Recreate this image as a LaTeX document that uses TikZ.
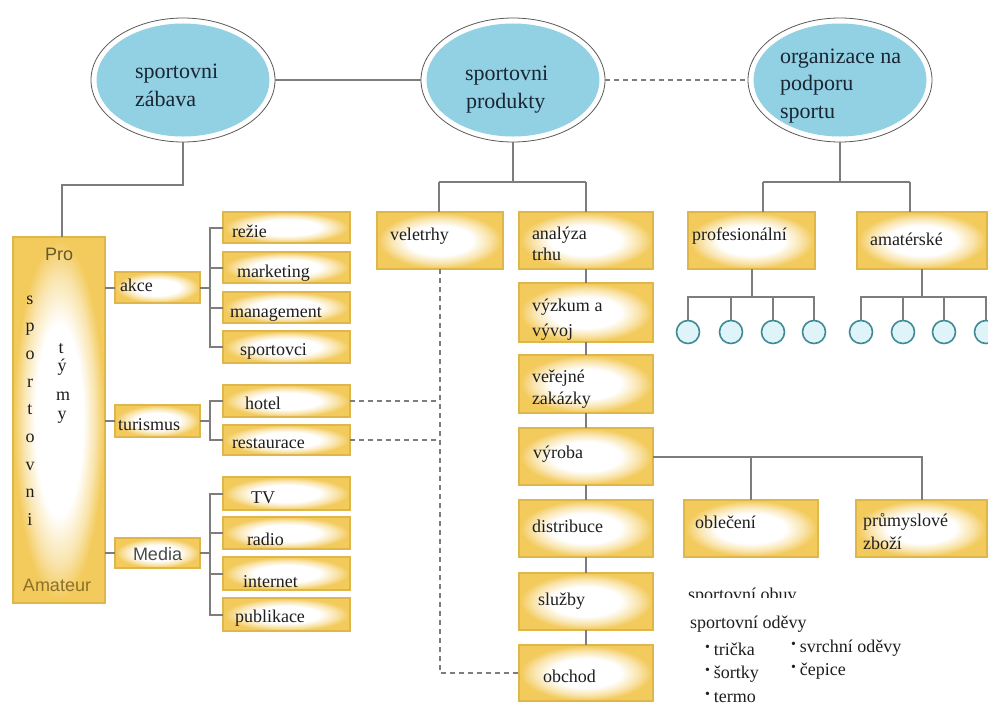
\documentclass[tikz,border=0pt]{standalone}
\usepackage{fontspec}
\setmainfont{Liberation Serif}
\newfontfamily\serff{Liberation Serif}
\newfontfamily\sansf{Liberation Sans}
\usetikzlibrary{shapes.geometric}
\definecolor{boxgold}{RGB}{243,202,92}
\definecolor{boxedge}{RGB}{222,182,74}
\definecolor{ellblue}{RGB}{146,208,228}
\definecolor{connc}{RGB}{125,125,125}
\definecolor{circfill}{RGB}{222,244,248}
\definecolor{circedge}{RGB}{62,138,150}
\definecolor{txt}{RGB}{30,30,30}
\definecolor{etxtc}{RGB}{25,38,50}
\definecolor{protxt}{RGB}{105,88,40}
\definecolor{amtxt}{RGB}{140,112,40}
\definecolor{medtxt}{RGB}{75,75,70}
\pgfdeclareradialshading{boxsh}{\pgfpoint{0bp}{0bp}}{color(0bp)=(white); color(13bp)=(white); color(19.5bp)=(boxgold!50!white); color(24.5bp)=(boxgold); color(50bp)=(boxgold)}
\newcommand\mybox[5]{%
  \pgfmathsetmacro\bxw{#4-#2}\pgfmathsetmacro\bxh{#5-#3}%
  \pgfmathsetmacro\bxcx{(#2+#4)/2}\pgfmathsetmacro\bxcy{(#3+#5)/2}%
  \node[box, minimum width=\bxw pt, minimum height=\bxh pt] (#1) at (\bxcx,\bxcy) {};}
\newcommand\mytx[4]{\node[lbl] (#1) at (#2,#3) {#4};}
\newcommand\bul{\raisebox{4pt}{\fontsize{14}{14}\selectfont•}\hspace{4pt}}
\tikzset{
  box/.style={rectangle, draw=boxedge, line width=1.4pt, shading=boxsh, inner sep=0pt, outer sep=0pt},
  conn/.style={draw=connc, line width=2pt},
  dsh/.style={draw=connc, line width=1.6pt, dash pattern=on 5pt off 4pt},
  lbl/.style={inner sep=0pt, outer sep=0pt, anchor=base west, text=txt, font=\serff\fontsize{18}{21}\selectfont},
  etx/.style={inner sep=0pt, outer sep=0pt, anchor=base west, text=etxtc, font=\serff\fontsize{22}{26}\selectfont},
  ltr/.style={inner sep=0pt, outer sep=0pt, anchor=base, text=txt, font=\serff\fontsize{18}{21}\selectfont},
  ell/.style={ellipse, draw=gray!70!black, line width=0.8pt, fill=white, minimum width=184pt, minimum height=124pt, inner sep=0pt},
  circ/.style={circle, draw=circedge, fill=circfill, line width=1.6pt, minimum size=23pt, inner sep=0pt}
}
\begin{document}
\begin{tikzpicture}[x=1pt,y=-1pt]
\useasboundingbox (0,0) rectangle (988,702);
\fill[white] (0,0) rectangle (988,702);

% ellipses
\node[ell] (e1) at (183,80) {};
\node[ell] (e2) at (513,80) {};
\node[ell] (e3) at (840,80) {};
\foreach \e in {e1,e2,e3}{\fill[ellblue] (\e.center) ellipse (86.5pt and 56.5pt);}
\node[etx] (t-e1a) at (135,78) {sportovni};
\node[etx] (t-e1b) at (135,106) {zábava};
\node[etx] (t-e2a) at (465,80) {sportovni};
\node[etx] (t-e2b) at (466,108) {produkty};
\node[etx] (t-e3a) at (780,63) {organizace na};
\node[etx] (t-e3b) at (780,90) {podporu};
\node[etx] (t-e3c) at (780,118) {sportu};

% boxes
\mybox{big}{13}{237}{105}{603}
\mybox{akce}{115}{272}{200}{303}
\mybox{tur}{115}{405}{200}{437}
\mybox{media}{115}{538}{200}{568}
\mybox{rezie}{223}{212}{350}{243}
\mybox{mark}{223}{252}{350}{283}
\mybox{mgmt}{223}{292}{350}{323}
\mybox{spv}{223}{331}{350}{363}
\mybox{hotel}{223}{385}{350}{417}
\mybox{rest}{223}{425}{350}{455}
\mybox{tv}{223}{477}{350}{510}
\mybox{radio}{223}{517}{350}{549}
\mybox{inet}{223}{557}{350}{590}
\mybox{publ}{223}{598}{350}{631}
\mybox{velet}{377}{212}{503}{269}
\mybox{anal}{519}{212}{653}{269}
\mybox{vyzk}{519}{283}{653}{342}
\mybox{verej}{519}{355}{653}{413}
\mybox{vyr}{519}{428}{653}{485}
\mybox{dist}{519}{500}{653}{557}
\mybox{sluz}{519}{573}{653}{630}
\mybox{obch}{519}{645}{653}{701}
\mybox{prof}{688}{212}{815}{269}
\mybox{amat}{857}{212}{987}{269}
\mybox{obl}{684}{500}{818}{557}
\mybox{prum}{856}{500}{987}{557}

% circles
\node[circ] (c1) at (688,332) {};
\node[circ] (c2) at (731,332) {};
\node[circ] (c3) at (773,332) {};
\node[circ] (c4) at (814,332) {};
\node[circ] (c5) at (861,332) {};
\node[circ] (c6) at (903,332) {};
\node[circ] (c7) at (944,332) {};
\node[circ] (c8) at (986,332) {};

% junction coordinates
\coordinate (j1) at (62,185);
\coordinate (j2a) at (439,182);
\coordinate (j2b) at (586,182);
\coordinate (j3a) at (763,182);
\coordinate (j3b) at (910,182);
\coordinate (pj) at (752,297);
\coordinate (aj) at (923,297);

% top connectors
\draw[conn] (e1.east) -- (e2.west);
\draw[dsh] (e2.east) -- (e3.west);
\draw[conn] (e1.south) |- (j1) -- (j1 |- big.north);
\draw[conn] (e2.south) -- (e2.south |- j2a);
\draw[conn] (j2a) -- (j2b);
\draw[conn] (j2a) -- (j2a |- velet.north);
\draw[conn] (j2b) -- (j2b |- anal.north);
\draw[conn] (e3.south) -- (e3.south |- j3a);
\draw[conn] (j3a) -- (j3b);
\draw[conn] (j3a) -- (j3a |- prof.north);
\draw[conn] (j3b) -- (j3b |- amat.north);

% left side
\foreach \n in {akce,tur,media}{\draw[conn] (\n.west) -- (\n.west -| big.east);}
\foreach \n in {rezie,mark,mgmt,spv}{\draw[conn] (\n.west) -- ++(-13,0) |- (akce.east);}
\foreach \n in {hotel,rest}{\draw[conn] (\n.west) -- ++(-13,0) |- (tur.east);}
\foreach \n in {tv,radio,inet,publ}{\draw[conn] (\n.west) -- ++(-13,0) |- (media.east);}

% middle chain
\draw[conn] (anal.south) -- (vyzk.north);
\draw[conn] (vyzk.south) -- (verej.north);
\draw[conn] (verej.south) -- (vyr.north);
\draw[conn] (vyr.south) -- (dist.north);
\draw[conn] (dist.south) -- (sluz.north);
\draw[conn] (sluz.south) -- (obch.north);
\draw[conn] (vyr.east) -| (prum.north);
\draw[conn] (obl.north) -- (obl.north |- vyr.east);

% dashed
\draw[dsh] (velet.south) |- (obch.west);
\draw[dsh] (hotel.east) -- (hotel.east -| velet.south);
\draw[dsh] (rest.east) -- (rest.east -| velet.south);

% right trees
\draw[conn] (prof.south) -- (prof.south |- pj);
\draw[conn] (c1.north) |- (pj);
\draw[conn] (c4.north) |- (pj);
\draw[conn] (c2.north) -- (c2.north |- pj);
\draw[conn] (c3.north) -- (c3.north |- pj);
\draw[conn] (amat.south) -- (amat.south |- aj);
\draw[conn] (c5.north) |- (aj);
\draw[conn] (c8.north) |- (aj);
\draw[conn] (c6.north) -- (c6.north |- aj);
\draw[conn] (c7.north) -- (c7.north |- aj);

% box labels
\mytx{t-velet}{390}{240}{veletrhy}
\mytx{t-anal1}{532}{239}{analýza}
\mytx{t-anal2}{532}{260}{trhu}
\mytx{t-vyzk1}{532}{311}{výzkum a}
\mytx{t-vyzk2}{532}{336}{vývoj}
\mytx{t-verej1}{532}{382}{veřejné}
\mytx{t-verej2}{532}{404}{zakázky}
\mytx{t-vyr}{533}{458}{výroba}
\mytx{t-dist}{532}{532}{distribuce}
\mytx{t-sluz}{538}{605}{služby}
\mytx{t-obch}{543}{682}{obchod}
\mytx{t-rezie}{232}{237}{režie}
\mytx{t-mark}{237}{277}{marketing}
\mytx{t-mgmt}{230}{317}{management}
\mytx{t-spv}{240}{355}{sportovci}
\mytx{t-hotel}{245}{409}{hotel}
\mytx{t-rest}{232}{448}{restaurace}
\mytx{t-akce}{120}{291}{akce}
\mytx{t-tur}{118}{430}{turismus}
\mytx{t-tv}{251}{503}{TV}
\mytx{t-radio}{247}{545}{radio}
\mytx{t-inet}{243}{587}{internet}
\mytx{t-publ}{235}{622}{publikace}
\mytx{t-prof}{692}{240}{profesionální}
\mytx{t-amat}{870}{245}{amatérské}
\mytx{t-obl}{695}{528}{oblečení}
\mytx{t-prum1}{863}{526}{průmyslové}
\mytx{t-prum2}{863}{549}{zboží}
\node[lbl, text=medtxt, font=\sansf\fontsize{18}{21}\selectfont] (t-media) at (133,560) {Media};
\node[lbl, text=protxt, font=\sansf\fontsize{18}{21}\selectfont] (t-pro) at (45,260) {Pro};
\node[lbl, text=amtxt, font=\sansf\fontsize{18}{21}\selectfont] (t-amateur) at (23,591) {Amateur};

% vertical letters
\node[ltr] (l1) at (30,304) {s};
\node[ltr] (l2) at (30,331) {p};
\node[ltr] (l3) at (30,359) {o};
\node[ltr] (l4) at (30,387) {r};
\node[ltr] (l5) at (30,414) {t};
\node[ltr] (l6) at (30,442) {o};
\node[ltr] (l7) at (30,470) {v};
\node[ltr] (l8) at (30,497) {n};
\node[ltr] (l9) at (30,525) {i};
\node[ltr] (m1) at (61,353) {t};
\node[ltr] (m2) at (62,371) {ý};
\node[ltr] (m3) at (63,400) {m};
\node[ltr] (m4) at (62,419) {y};

% bottom list
\begin{scope}
\clip (680,580) rectangle (840,597);
\mytx{t-obuv}{688}{600}{sportovní obuv}
\end{scope}
\mytx{t-odevy}{690}{628}{sportovní oděvy}
\mytx{t-tricka}{705}{655}{\bul trička}
\mytx{t-sortky}{705}{678}{\bul šortky}
\mytx{t-termo}{705}{702}{\bul termo}
\mytx{t-svrch}{791}{652}{\bul svrchní oděvy}
\mytx{t-cepice}{791}{675}{\bul čepice}
\end{tikzpicture}
\end{document}
